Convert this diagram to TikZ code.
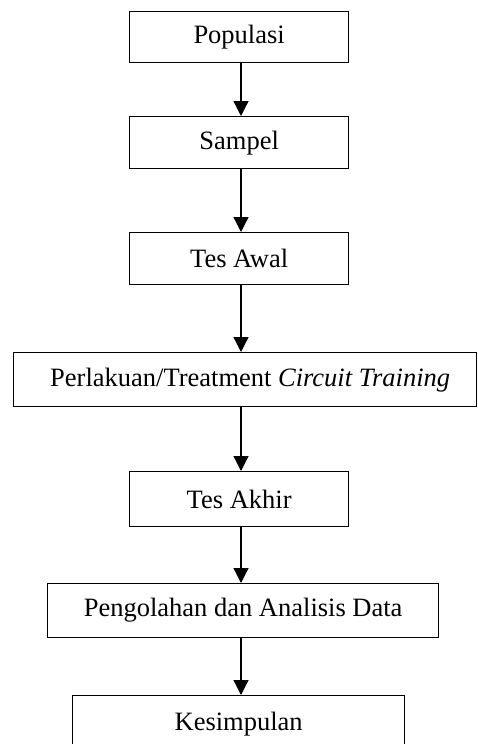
\documentclass[tikz,border=0pt]{standalone}
\usepackage{fontspec}
\setmainfont{Liberation Serif}
\usetikzlibrary{arrows.meta}
\begin{document}
\begin{tikzpicture}[x=1pt,y=-1pt,
  box/.style={draw=black,line width=1.3pt,rectangle,inner sep=0pt,anchor=north west,
    font=\fontsize{26.5}{30}\selectfont},
  arr/.style={line width=1.3pt,-{Triangle[length=15pt,width=15pt]}}]
\useasboundingbox (0,0) rectangle (477,744);
\clip (0,0) rectangle (477,744);
\coordinate (axis) at (241,0);
\node[box,minimum width=219pt,minimum height=51pt] (pop) at (129,11) {Populasi};
\node[box,minimum width=219pt,minimum height=52pt] (samp) at (129,116) {Sampel};
\node[box,minimum width=219pt,minimum height=52pt] (awal) at (129,232) {Tes Awal};
\node[box,minimum width=463pt,minimum height=54pt] (treat) at (13,352) {\hspace{10pt}Perlakuan/Treatment \textit{Circuit Training}};
\node[box,minimum width=219pt,minimum height=55pt] (akhir) at (129,471) {Tes Akhir};
\node[box,minimum width=391pt,minimum height=54pt] (olah) at (47,583) {Pengolahan dan Analisis Data};
\node[box,minimum width=332pt,minimum height=56pt] (simp) at (72,695) {Kesimpulan};
\draw[arr] (pop.south -| axis) -- (samp.north -| axis);
\draw[arr] (samp.south -| axis) -- (awal.north -| axis);
\draw[arr] (awal.south -| axis) -- (treat.north -| axis);
\draw[arr] (treat.south -| axis) -- (akhir.north -| axis);
\draw[arr] (akhir.south -| axis) -- (olah.north -| axis);
\draw[arr] (olah.south -| axis) -- (simp.north -| axis);
\end{tikzpicture}
\end{document}
